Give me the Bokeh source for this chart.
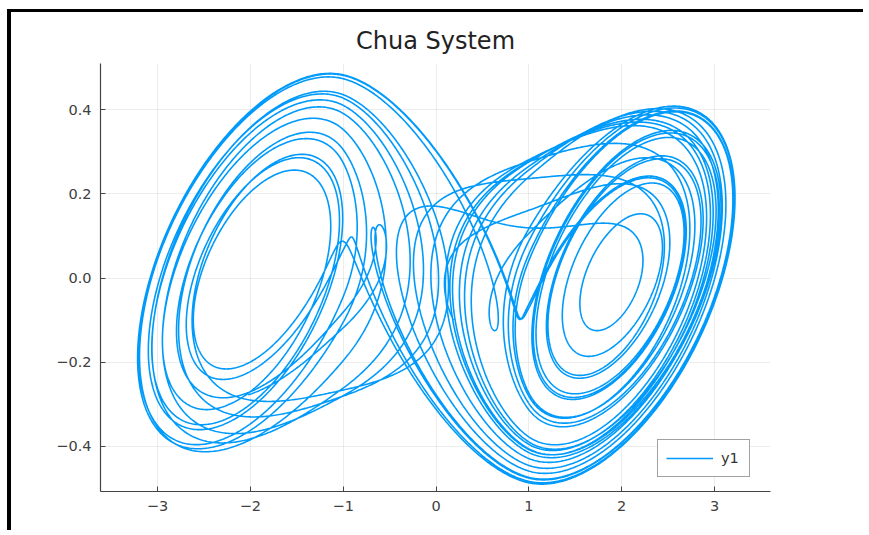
from bokeh.plotting import figure
from bokeh.models import FixedTicker, Range1d, Legend, LegendItem
from bokeh.embed import file_html
from bokeh.resources import INLINE

# Chua system parameters (piecewise-linear diode), start point
alpha_p = 9.3
beta_p = 14.286
m0 = -8.0 / 7.0
m1 = -0.85
u0 = [0.19, -0.1, 0.0]
t_end = 100.0
dt = 0.005

x_ticks = [-3, -2, -1, 0, 1, 2, 3]
x_tick_labels = ["\u22123", "\u22122", "\u22121", "0", "1", "2", "3"]
y_ticks = [-0.4, -0.2, 0.0, 0.2, 0.4]
y_tick_labels = ["\u22120.4", "\u22120.2", "0.0", "0.2", "0.4"]
series_name = "y1"
title_text = "Chua System"


def rhs(x, y, z):
    h = m1 * x + 0.5 * (m0 - m1) * (abs(x + 1.0) - abs(x - 1.0))
    return alpha_p * (y - x - h), x - y + z, -beta_p * y


n = int(t_end / dt)
xs = [0.0] * (n + 1)
ys = [0.0] * (n + 1)
x, y, z = u0
xs[0], ys[0] = x, y
for i in range(n):
    k1 = rhs(x, y, z)
    k2 = rhs(x + 0.5 * dt * k1[0], y + 0.5 * dt * k1[1], z + 0.5 * dt * k1[2])
    k3 = rhs(x + 0.5 * dt * k2[0], y + 0.5 * dt * k2[1], z + 0.5 * dt * k2[2])
    k4 = rhs(x + dt * k3[0], y + dt * k3[1], z + dt * k3[2])
    x += dt / 6.0 * (k1[0] + 2 * k2[0] + 2 * k3[0] + k4[0])
    y += dt / 6.0 * (k1[1] + 2 * k2[1] + 2 * k3[1] + k4[1])
    z += dt / 6.0 * (k1[2] + 2 * k2[2] + 2 * k3[2] + k4[2])
    xs[i + 1], ys[i + 1] = x, y

FONT = "DejaVu Sans"

p = figure(width=856, height=521, output_backend="svg", toolbar_location=None,
           x_range=Range1d(-3.614, 3.603), y_range=Range1d(-0.507, 0.51),
           min_border_left=89, min_border_right=97, min_border_top=51, min_border_bottom=42)
p.styles = {"border-left": "4px solid black", "border-top": "3px solid black",
            "margin-left": "7px", "margin-top": "9px"}
p.outline_line_color = None
p.background_fill_color = "white"
p.border_fill_color = "white"

p.title.text = title_text
p.title.align = "center"
p.title.text_font = FONT
p.title.text_font_size = "24px"
p.title.text_font_style = "normal"
p.title.text_color = "#222222"
p.title.standoff = 17

r = p.line(xs, ys, line_color="#009AFA", line_width=1.6)

for ax, ticks, labels in ((p.xaxis[0], x_ticks, x_tick_labels), (p.yaxis[0], y_ticks, y_tick_labels)):
    ax.ticker = FixedTicker(ticks=ticks)
    ax.major_label_overrides = {t: l for t, l in zip(ticks, labels)}
    ax.axis_line_color = "#444444"
    ax.axis_line_width = 1.2
    ax.major_tick_line_color = "#444444"
    ax.major_tick_in = 5
    ax.major_tick_out = 0
    ax.minor_tick_line_color = None
    ax.major_label_text_font = FONT
    ax.major_label_text_font_size = "14.5px"
    ax.major_label_text_color = "#404040"
    ax.major_label_standoff = 9

p.xgrid.ticker = FixedTicker(ticks=x_ticks)
p.ygrid.ticker = FixedTicker(ticks=y_ticks)
p.grid.grid_line_color = "black"
p.grid.grid_line_alpha = 0.07

legend = Legend(items=[LegendItem(label=series_name, renderers=[r])],
                location=(557, 14), glyph_width=47, glyph_height=20,
                label_text_font=FONT, label_text_font_size="14.5px", label_text_color="#333333",
                label_standoff=8, padding=8, margin=0, spacing=0,
                border_line_color="#444444", border_line_width=1.2,
                background_fill_color="white", background_fill_alpha=1.0)
p.add_layout(legend, "center")

open("out.html", "w").write(file_html(p, INLINE))
